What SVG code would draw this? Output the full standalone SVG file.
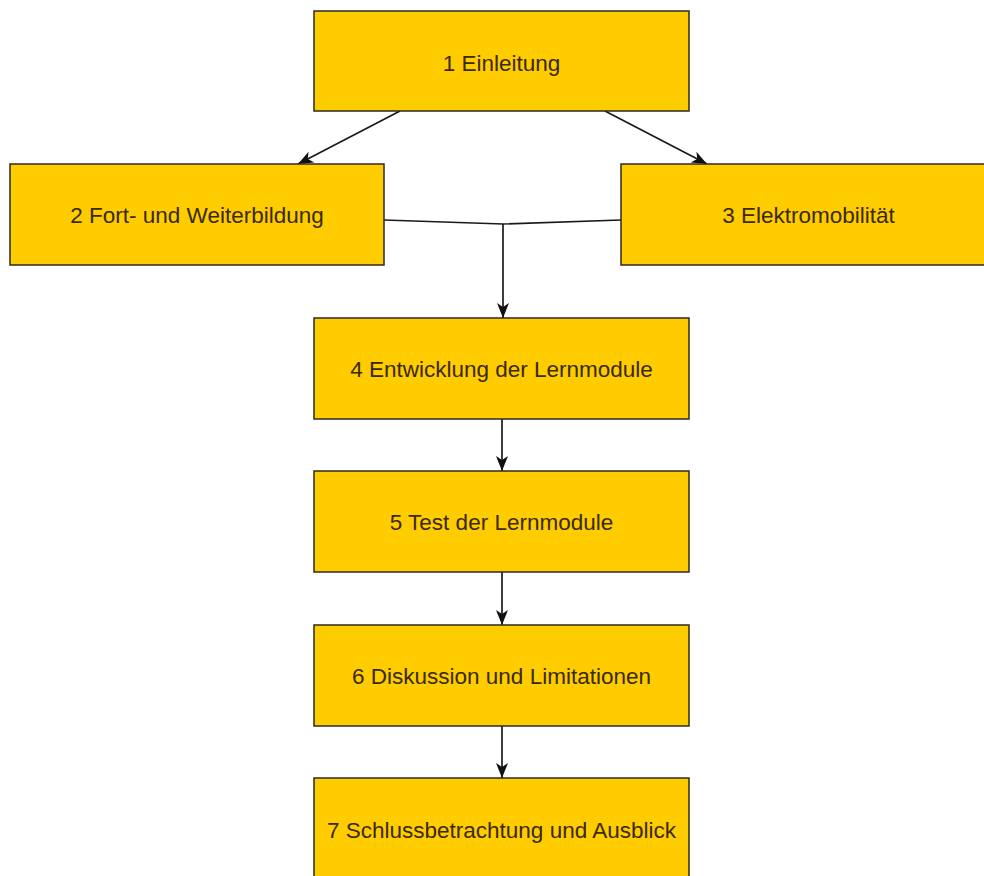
<svg xmlns="http://www.w3.org/2000/svg" width="984" height="876" viewBox="0 0 984 876">
<style>
.box{fill:#ffcc00;stroke:#2e2a1e;stroke-width:1.5}
.lbl{font-family:"Liberation Sans",Arial,sans-serif;font-size:22.5px;fill:#3a2a06;text-anchor:middle}
.con{fill:none;stroke:#1a1a1a;stroke-width:1.7}
</style>
<defs>
<marker id="arr" viewBox="0 0 15 12" refX="15" refY="6" markerWidth="15" markerHeight="12" markerUnits="userSpaceOnUse" orient="auto">
<path d="M0,0 L15,6 L0,12 L4,6 Z" fill="#111"/>
</marker>
</defs>
<rect width="984" height="876" fill="#ffffff"/>
<g id="connectors">
<line class="con" x1="400" y1="111" x2="298" y2="164" marker-end="url(#arr)"/>
<line class="con" x1="605" y1="111" x2="707" y2="164" marker-end="url(#arr)"/>
<polyline class="con" points="384,220 503,224 621,220"/>
<line class="con" x1="503" y1="224" x2="503" y2="318" marker-end="url(#arr)"/>
<line class="con" x1="502" y1="419" x2="502" y2="471" marker-end="url(#arr)"/>
<line class="con" x1="502" y1="572" x2="502" y2="625" marker-end="url(#arr)"/>
<line class="con" x1="502" y1="726" x2="502" y2="778" marker-end="url(#arr)"/>
</g>
<g id="n1"><rect class="box" x="314" y="11" width="375" height="100"/><text class="lbl" x="501.5" y="71">1 Einleitung</text></g>
<g id="n2"><rect class="box" x="10" y="164" width="374" height="101"/><text class="lbl" x="197" y="223">2 Fort- und Weiterbildung</text></g>
<g id="n3"><rect class="box" x="621" y="164" width="375" height="101"/><text class="lbl" x="808.5" y="223">3 Elektromobilität</text></g>
<g id="n4"><rect class="box" x="314" y="318" width="375" height="101"/><text class="lbl" x="501.5" y="377">4 Entwicklung der Lernmodule</text></g>
<g id="n5"><rect class="box" x="314" y="471" width="375" height="101"/><text class="lbl" x="501.5" y="530">5 Test der Lernmodule</text></g>
<g id="n6"><rect class="box" x="314" y="625" width="375" height="101"/><text class="lbl" x="501.5" y="684">6 Diskussion und Limitationen</text></g>
<g id="n7"><rect class="box" x="314" y="778" width="375" height="101"/><text class="lbl" x="501.5" y="838">7 Schlussbetrachtung und Ausblick</text></g>
</svg>
